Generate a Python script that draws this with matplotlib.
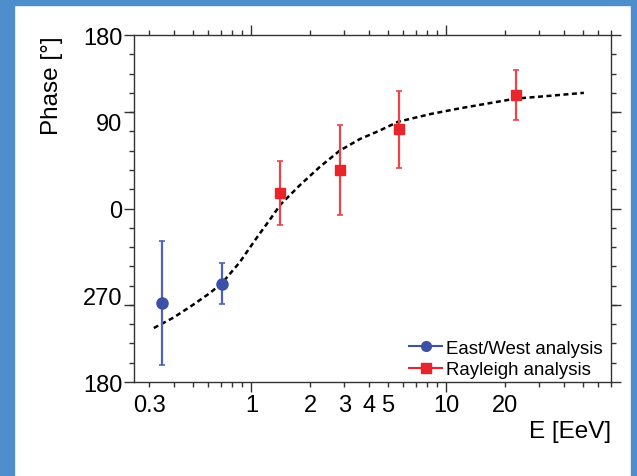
import matplotlib.pyplot as plt
from matplotlib.patches import Rectangle
from matplotlib.ticker import FixedLocator, FixedFormatter, NullFormatter
from matplotlib.markers import TICKLEFT, TICKRIGHT
import matplotlib.transforms as mtransforms

plt.rcParams['font.family'] = ['Liberation Sans', 'DejaVu Sans']

# East/West analysis
ew_energy = [0.35, 0.71]
ew_phase = [-98, -78]
ew_err = [64, 21]

# Rayleigh analysis
ray_energy = [1.41, 2.84, 5.7, 22.7]
ray_phase = [16, 40, 82, 118]
ray_err = [33, 47, 40, 26]

# dashed curve
fit_energy = [0.316, 0.40, 0.51, 0.61, 0.71, 0.87, 1.06, 1.24, 1.41, 1.77, 2.24,
              2.84, 3.6, 4.57, 5.66, 8.3, 11.8, 22.7, 34.4, 50.8]
fit_phase = [-124, -113, -99, -88, -77, -56, -31, -12, 4, 24, 43,
             60, 72, 81, 90, 98, 104, 114, 117, 120]

ylabel_vals = [-180, -90, 0, 90, 180]
ytick_labels = ['180', '270', '0', '90', '180']
ylong_ticks = [-180, -100, 0, 100, 180]
xtick_labels = {0.3: '0.3', 2: '2', 3: '3', 4: '4', 5: '5', 20: '20'}

blue = '#3b50a6'
blue_bar = '#4d63b8'
red = '#e8252a'
red_bar = '#e8464a'
axcol = '#333333'

fig = plt.figure(figsize=(6.37, 4.77), dpi=100)
fig.patch.set_facecolor('white')
border = '#4e8ecd'
fig.patches.append(Rectangle((0, 0), 14 / 637, 1, transform=fig.transFigure, color=border, zorder=0))
fig.patches.append(Rectangle((0, 1 - 6 / 477), 1, 6 / 477, transform=fig.transFigure, color=border, zorder=0))
fig.patches.append(Rectangle((631 / 637, 0), 6 / 637, 1, transform=fig.transFigure, color=border, zorder=0))

ax = fig.add_axes([134 / 637, 1 - 383 / 477, (611 - 134) / 637, (383 - 36) / 477])

ax.plot(fit_energy, fit_phase, color='black', lw=1.8, linestyle=(0, (2.0, 1.4)), zorder=2)

ax.errorbar(ew_energy, ew_phase, yerr=ew_err, fmt='o', color=blue, ecolor=blue_bar,
            elinewidth=1.6, capsize=2.5, capthick=1.2, ms=8, zorder=3)
ax.errorbar(ray_energy, ray_phase, yerr=ray_err, fmt='s', color=red, ecolor=red_bar,
            elinewidth=1.6, capsize=2.5, capthick=1.2, ms=7.5, zorder=3)

# legend proxies
ax.plot([], [], '-o', color=blue, ms=7, lw=1.5, label='East/West analysis')
ax.plot([], [], '-s', color=red, ms=7, lw=1.5, label='Rayleigh analysis')
ax.legend(loc='lower right', bbox_to_anchor=(1 - 5 / 477, 0), frameon=False, fontsize=13.4,
          handlelength=1.75, handletextpad=0.2, labelspacing=0.25, borderpad=0.1,
          borderaxespad=0.1)

ax.set_xscale('log')
ax.set_xlim(0.25, 70)
ax.set_ylim(-180, 180)

ax.xaxis.set_major_locator(FixedLocator([1, 10]))
ax.xaxis.set_major_formatter(FixedFormatter(['1', '10']))
minor_x = [0.3, 0.4, 0.5, 0.6, 0.7, 0.8, 0.9, 2, 3, 4, 5, 6, 7, 8, 9, 20, 30, 40, 50, 60, 70]
ax.xaxis.set_minor_locator(FixedLocator(minor_x))
ax.xaxis.set_minor_formatter(FixedFormatter([xtick_labels.get(v, '') for v in minor_x]))

ax.yaxis.set_major_locator(FixedLocator(ylabel_vals))
ax.yaxis.set_major_formatter(FixedFormatter(ytick_labels))
ax.yaxis.set_minor_locator(FixedLocator(list(range(-180, 181, 20))))
ax.yaxis.set_minor_formatter(NullFormatter())

ax.tick_params(which='both', direction='out', top=True, right=True, labelsize=17,
               color=axcol, width=1.0)
ax.tick_params(which='major', length=7, pad=1.5)
ax.tick_params(which='minor', length=3.5, pad=5)
# y labels sit apart from the long y ticks, as in the original
ax.tick_params(axis='y', which='major', length=0, pad=8.5)

trans = mtransforms.blended_transform_factory(ax.transAxes, ax.transData)
ax.plot([0] * len(ylong_ticks), ylong_ticks, ls='none', marker=TICKLEFT, ms=7, mew=1.0,
        color=axcol, transform=trans, clip_on=False)
ax.plot([1] * len(ylong_ticks), ylong_ticks, ls='none', marker=TICKRIGHT, ms=7, mew=1.0,
        color=axcol, transform=trans, clip_on=False)

for s in ax.spines.values():
    s.set_color(axcol)
    s.set_linewidth(1.0)

ax.set_xlabel('E [EeV]', fontsize=17.5, loc='right', labelpad=3)
ax.set_ylabel('Phase [°]', fontsize=17.5, loc='top', labelpad=14)

fig.savefig('out.png', dpi=100)
